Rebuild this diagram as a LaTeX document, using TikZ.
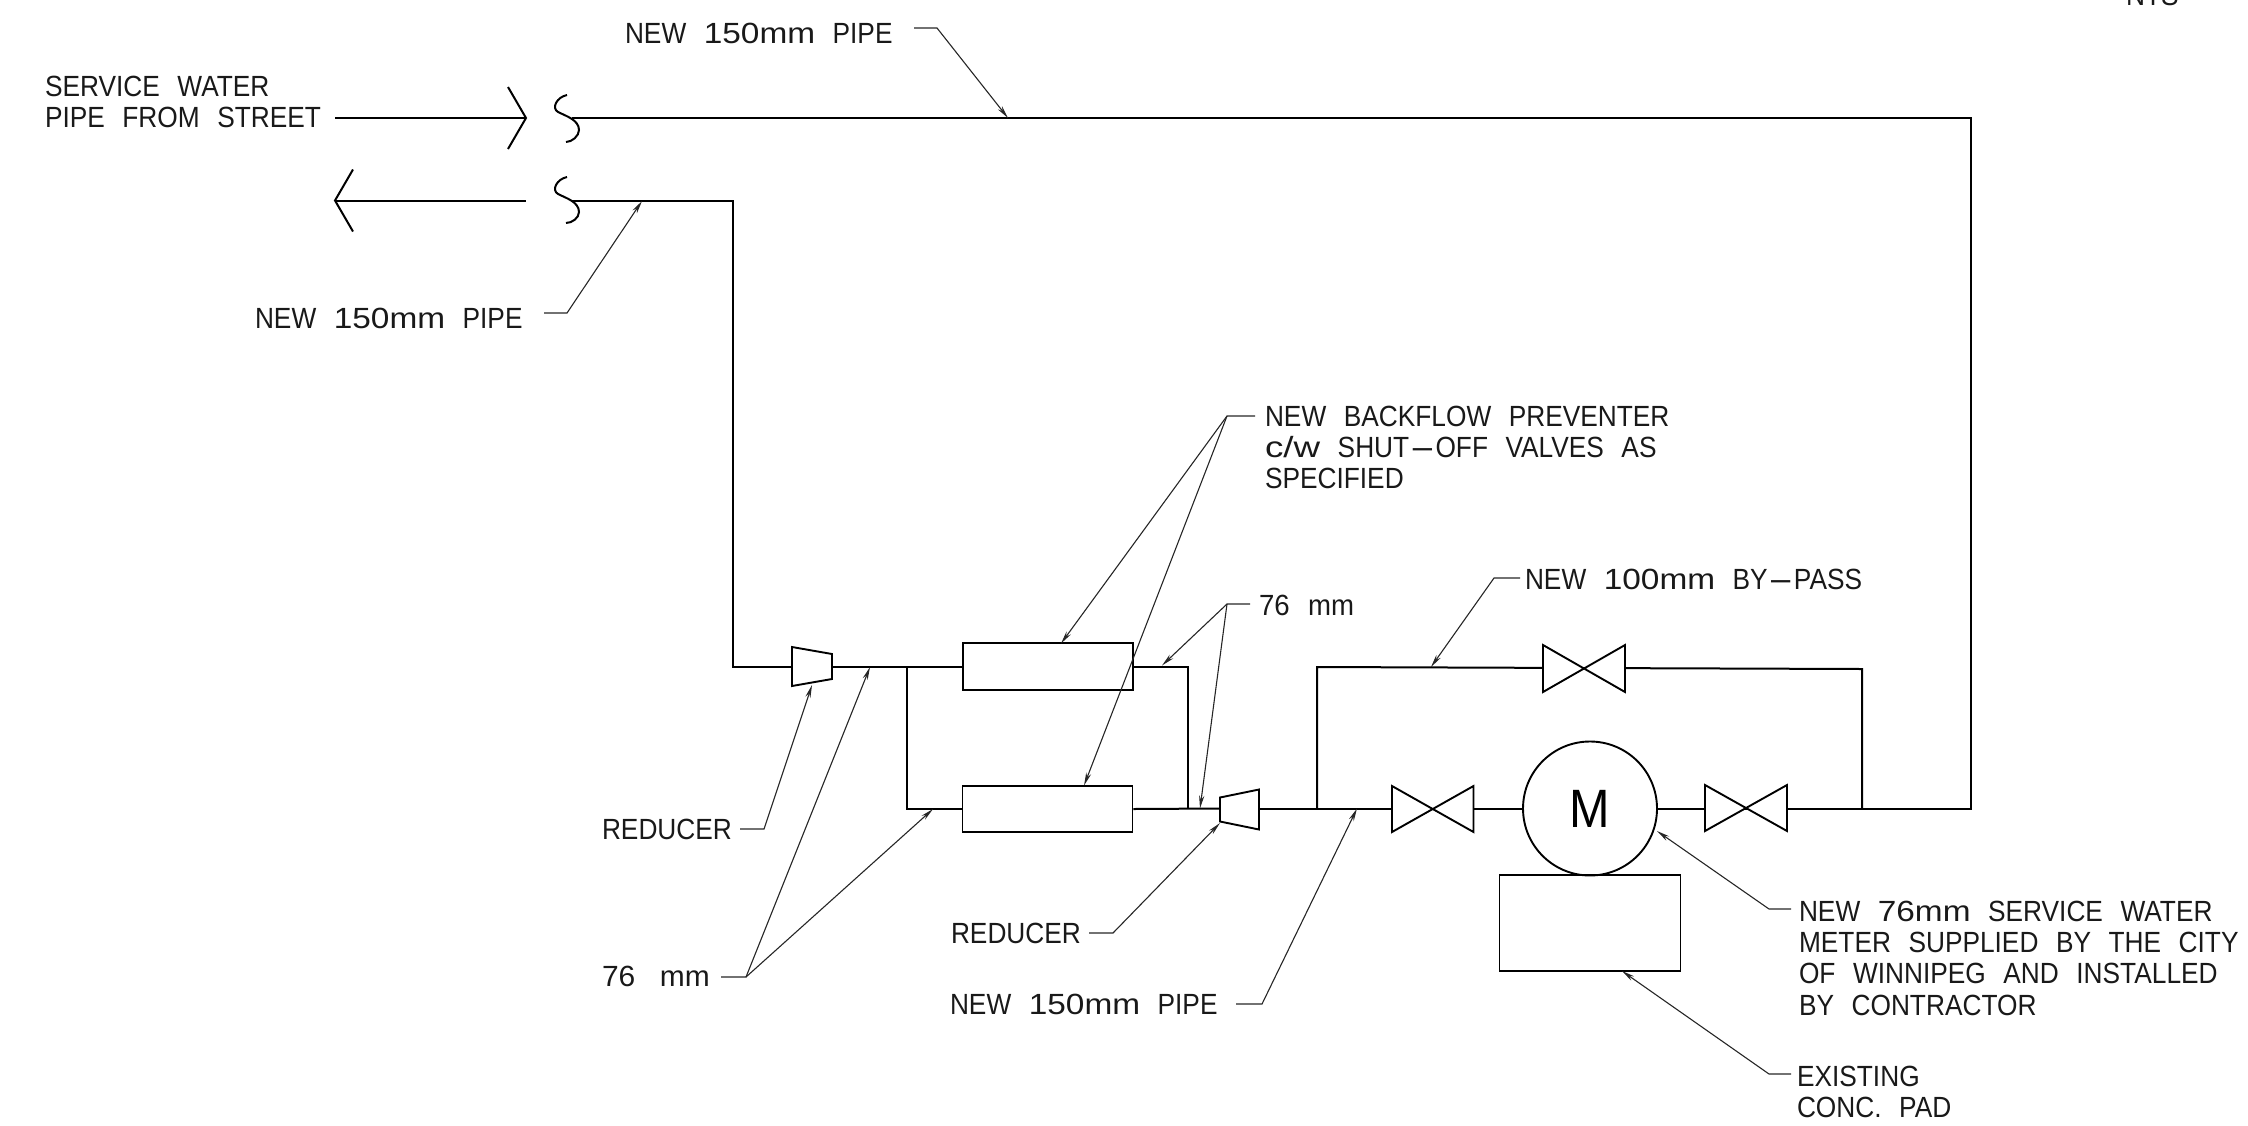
\documentclass[tikz,border=0pt]{standalone}
\usepackage{fontspec}
\setmainfont[FakeStretch=0.9,WordSpace=2.4]{Liberation Sans}
\newcommand{\widen}[2][1.27]{\scalebox{#1}[1]{#2}}
\newcommand{\longdash}{\scalebox{3}[1]{-}}
\usetikzlibrary{arrows.meta}
\tikzset{
  x=0.5pt,y=-0.5pt,
  pipe/.style={draw=black,line width=1pt,line join=miter},
  fitting/.style={draw=black,line width=0.95pt,fill=white,line join=miter},
  leader/.style={draw=black!85,line width=0.55pt},
  leadarrow/.style={leader,-{Stealth[length=6.5pt,width=2.6pt]}},
  lbl/.style={anchor=north west,inner sep=0pt,outer sep=0pt,align=left,text=black!90,
    font=\fontsize{14.6}{15.6}\selectfont},
  tank/.style={draw=black,line width=0.95pt,fill=white,rectangle,inner sep=0pt,minimum width=85pt,minimum height=23.2pt},
  pad/.style={draw=black,line width=0.95pt,rectangle,inner sep=0pt,minimum width=90.5pt,minimum height=48pt},
  meter/.style={draw=black,line width=0.95pt,fill=white,circle,inner sep=0pt,minimum size=67pt,font=\fontsize{27}{27}\selectfont},
}
\begin{document}
\begin{tikzpicture}
\useasboundingbox (0,0) rectangle (2248,1125);
% pipe coordinates
\coordinate (inA) at (335,118);
\coordinate (inTip) at (526,118);
\coordinate (inU) at (508,87);
\coordinate (inD) at (508,149);
\coordinate (topS) at (572,118);
\coordinate (corTR) at (1971,118);
\coordinate (corBR) at (1971,808.5);
\coordinate (outTip) at (335,200.5);
\coordinate (outU) at (353,169.5);
\coordinate (outD) at (353,231.5);
\coordinate (outE) at (526,200.5);
\coordinate (botS) at (572,200.5);
\coordinate (corTL) at (733,200.5);
\coordinate (corBL) at (733,666.5);
\coordinate (r1a) at (792,647);
\coordinate (r1b) at (832,654);
\coordinate (r1c) at (832,679);
\coordinate (r1d) at (792,686);
\coordinate (r1in) at (792,666.5);
\coordinate (r1out) at (832,666.5);
\coordinate (splitT) at (907,666.5);
\coordinate (mergeT) at (1187.5,666.5);
\coordinate (mergeB) at (1187.5,808.5);
\coordinate (r2a) at (1220,797.5);
\coordinate (r2b) at (1259,789.5);
\coordinate (r2c) at (1259,829.5);
\coordinate (r2d) at (1220,821.5);
\coordinate (r2in) at (1220,808.5);
\coordinate (r2out) at (1259,808.5);
\coordinate (byL) at (1317,808.5);
\coordinate (byLT) at (1317,667);
\coordinate (byRT) at (1862,669);
\coordinate (byR) at (1862,808.5);
\coordinate (vT) at (1584,668);
% fittings as nodes
\node[tank] (bf1) at (1048,666.5) {};
\node[tank] (bf2) at (1047.5,809) {};
\node[meter] (mtr) at (1590,808.5) {M};
\node[pad] (padn) at (1590,923) {};
% pipes
\draw[pipe] (inA) -- (inTip);
\draw[pipe] (inU) -- (inTip) -- (inD);
\draw[pipe] (topS) -- (corTR) -- (corBR) -- (mtr.east |- corBR);
\draw[pipe] (outU) -- (outTip) -- (outD);
\draw[pipe] (outTip) -- (outE);
\draw[pipe] (botS) -- (corTL) -- (corBL) -- (r1in);
\draw[pipe] (r1out) -- (bf1.west);
\draw[pipe] (bf1.east) -- (mergeT) -- (mergeB);
\draw[pipe] (splitT) |- (bf2.west);
\draw[pipe] (bf2.east) -- (r2in);
\draw[pipe] (r2out) -- (mtr.west);
\draw[pipe] (byL) -- (byLT) -- (vT);
\draw[pipe] (vT) -- (byRT) -- (byR);
% pipe breaks
\draw[pipe] (567,95) .. controls (557,97) and (551,108) .. (558,112) .. controls (566,116) and (579,120) .. (579,130) .. controls (579,136) and (572,142) .. (566,142);
\draw[pipe] (567,177) .. controls (557,179) and (551,190) .. (558,194) .. controls (566,198) and (579,202) .. (579,212) .. controls (579,218) and (572,223) .. (566,223);
% reducers
\draw[fitting] (r1a) -- (r1b) -- (r1c) -- (r1d) -- cycle;
\draw[fitting] (r2a) -- (r2b) -- (r2c) -- (r2d) -- cycle;
% valves
\draw[fitting] (1543,645) -- (1625,692) -- (1625,645) -- (1543,692) -- cycle;
\draw[fitting] (1392,786) -- (1473.5,832) -- (1473.5,786) -- (1392,832) -- cycle;
\draw[fitting] (1705,785) -- (1787,831) -- (1787,785) -- (1705,831) -- cycle;
% labels
\node[lbl] (t1) at (625,23) {NEW \widen{150mm} PIPE};
\node[lbl] (t2) at (45,76) {SERVICE WATER\\PIPE FROM STREET};
\node[lbl] (t3) at (255,308) {NEW \widen{150mm} PIPE};
\node[lbl] (t4) at (1265,406) {NEW BACKFLOW PREVENTER\\\widen[1.4]{c/w} SHUT\longdash OFF VALVES AS\\SPECIFIED};
\node[lbl] (t5) at (1259,595) {\widen[1.05]{76 mm}};
\node[lbl] (t6) at (1525,569) {NEW \widen{100mm} BY\longdash PASS};
\node[lbl] (t7) at (602,819) {REDUCER};
\node[lbl] (t8) at (602,966) {\widen[1.14]{76\hspace{2pt} mm}};
\node[lbl] (t9) at (951,923) {REDUCER};
\node[lbl] (t10) at (950,994) {NEW \widen{150mm} PIPE};
\node[lbl] (t11) at (1799,901) {NEW \widen{76mm} SERVICE WATER\\METER SUPPLIED BY THE CITY\\OF WINNIPEG AND INSTALLED\\BY CONTRACTOR};
\node[lbl] (t12) at (1797,1066) {EXISTING\\CONC. PAD};
\node[lbl,anchor=base west] (t13) at (2126,5) {NTS};
% leaders
\coordinate (l1a) at (914,28); \coordinate (l1b) at (937,28); \coordinate (l1c) at (1008,118);
\draw[leadarrow] (l1a) -- (l1b) -- (l1c);
\coordinate (l3a) at (544,313); \coordinate (l3b) at (567,313); \coordinate (l3c) at (642,201);
\draw[leadarrow] (l3a) -- (l3b) -- (l3c);
\coordinate (l4a) at (1255,416); \coordinate (l4b) at (1227,416); \coordinate (l4c) at (1061,643.5); \coordinate (l4d) at (1084,785.5);
\draw[leadarrow] (l4a) -- (l4b) -- (l4c);
\draw[leadarrow] (l4b) -- (l4d);
\coordinate (l5a) at (1250,604); \coordinate (l5b) at (1227,604); \coordinate (l5c) at (1162,665.5); \coordinate (l5d) at (1200,808.5);
\draw[leadarrow] (l5a) -- (l5b) -- (l5c);
\draw[leadarrow] (l5b) -- (l5d);
\coordinate (l6a) at (1520,578); \coordinate (l6b) at (1494,578); \coordinate (l6c) at (1431,667);
\draw[leadarrow] (l6a) -- (l6b) -- (l6c);
\coordinate (l7a) at (740,829); \coordinate (l7b) at (764,829); \coordinate (l7c) at (812,685);
\draw[leadarrow] (l7a) -- (l7b) -- (l7c);
\coordinate (l8a) at (721,977); \coordinate (l8b) at (746,977); \coordinate (l8c) at (870,667); \coordinate (l8d) at (933,809);
\draw[leadarrow] (l8a) -- (l8b) -- (l8c);
\draw[leadarrow] (l8b) -- (l8d);
\coordinate (l9a) at (1089,933); \coordinate (l9b) at (1113,933); \coordinate (l9c) at (1220,823);
\draw[leadarrow] (l9a) -- (l9b) -- (l9c);
\coordinate (l10a) at (1236,1004); \coordinate (l10b) at (1262,1004); \coordinate (l10c) at (1357,808.5);
\draw[leadarrow] (l10a) -- (l10b) -- (l10c);
\coordinate (l11a) at (1791,909); \coordinate (l11b) at (1769,909); \coordinate (l11c) at (1657,831);
\draw[leadarrow] (l11a) -- (l11b) -- (l11c);
\coordinate (l12a) at (1791,1074); \coordinate (l12b) at (1769,1074); \coordinate (l12c) at (1622,971);
\draw[leadarrow] (l12a) -- (l12b) -- (l12c);
\end{tikzpicture}
\end{document}
